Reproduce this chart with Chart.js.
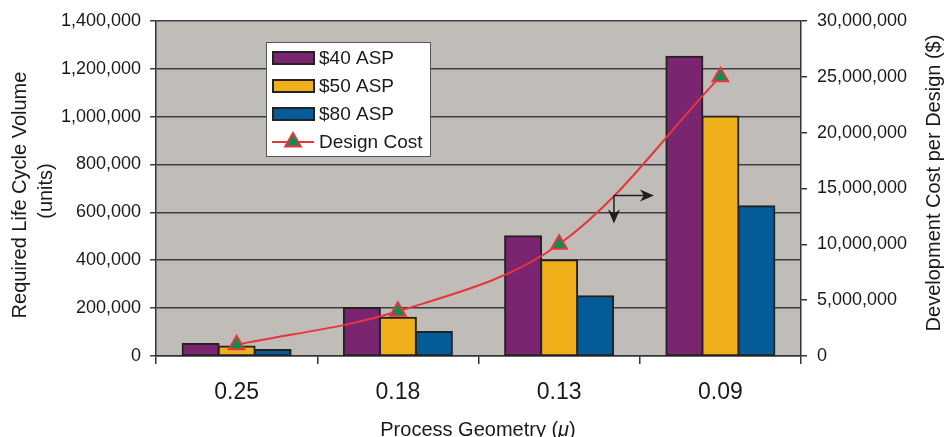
<!DOCTYPE html>
<html>
<head>
<meta charset="utf-8">
<script src="https://cdn.jsdelivr.net/npm/chart.js@4.4.0/dist/chart.umd.min.js"></script>
<style>
html,body{margin:0;padding:0;background:#fff;}
#wrap{width:944px;height:437px;position:relative;}
</style>
</head>
<body>
<div id="wrap"><canvas id="c" width="944" height="437"></canvas></div>
<script>
// ---- data ----
const categories = ['0.25', '0.18', '0.13', '0.09'];
const asp40 = [50000, 200000, 500000, 1250000];
const asp50 = [40000, 160000, 400000, 1000000];
const asp80 = [25000, 100000, 250000, 625000];
const designCost = [1000000, 4000000, 10000000, 25000000];
const seriesLabels = ['$40 ASP', '$50 ASP', '$80 ASP', 'Design Cost'];
const leftTitle = ['Required Life Cycle Volume', '(units)'];
const rightTitle = 'Development Cost per Design ($)';
const bottomTitle = ['Process Geometry (', 'μ', ')'];

// annotation anchor (in scale units: category index, left-axis value)
const arrowAnchor = { x: 2.34, y: 670000 };

const FONT = "'Liberation Sans', Arial, sans-serif";
const fmt = v => Number(v).toLocaleString('en-US');

const plotBg = {
  id: 'plotBg',
  beforeDraw(chart) {
    const {ctx, chartArea: a} = chart;
    ctx.save();
    ctx.fillStyle = '#c0bdb8';
    ctx.fillRect(a.left, a.top, a.right - a.left, a.bottom - a.top);
    ctx.restore();
  }
};

function arrowHead(ctx, x, y, dir) {
  ctx.beginPath();
  if (dir === 'right') {
    ctx.moveTo(x, y); ctx.lineTo(x - 14, y - 6); ctx.lineTo(x - 10, y); ctx.lineTo(x - 14, y + 6);
  } else {
    ctx.moveTo(x, y); ctx.lineTo(x - 6, y - 14); ctx.lineTo(x, y - 10); ctx.lineTo(x + 6, y - 14);
  }
  ctx.closePath(); ctx.fill();
}

const extras = {
  id: 'extras',
  afterDraw(chart) {
    const {ctx} = chart;
    const xs = chart.scales.x, ys = chart.scales.y;
    // arrow annotation
    const ax = xs.getPixelForValue(arrowAnchor.x);
    const ay = ys.getPixelForValue(arrowAnchor.y);
    ctx.save();
    ctx.strokeStyle = '#1e1e1e'; ctx.fillStyle = '#1e1e1e'; ctx.lineWidth = 1.5;
    ctx.beginPath(); ctx.moveTo(ax, ay); ctx.lineTo(ax + 34, ay); ctx.stroke();
    arrowHead(ctx, ax + 40, ay, 'right');
    ctx.beginPath(); ctx.moveTo(ax, ay); ctx.lineTo(ax, ay + 22); ctx.stroke();
    arrowHead(ctx, ax, ay + 28, 'down');
    ctx.restore();

    // legend (bars first, then line, like the reference)
    const lx = 266.5, ly = 42.5, lw = 164, lh = 114;
    ctx.save();
    ctx.fillStyle = '#fff'; ctx.fillRect(lx, ly, lw, lh);
    ctx.strokeStyle = '#555'; ctx.lineWidth = 1; ctx.strokeRect(lx, ly, lw, lh);
    ctx.font = '19px ' + FONT; ctx.textBaseline = 'middle'; ctx.textAlign = 'left';
    const rows = [58, 86, 114, 142];
    seriesLabels.forEach((lab, i) => {
      const ds = chart.data.datasets.find(d => d.label === lab);
      const cy = rows[i];
      if (ds.type === 'line') {
        ctx.strokeStyle = ds.borderColor; ctx.lineWidth = 2;
        ctx.beginPath(); ctx.moveTo(272, cy); ctx.lineTo(314, cy); ctx.stroke();
        const r = 9;
        ctx.beginPath();
        for (let k = 0; k < 3; k++) {
          const ang = k * 2 * Math.PI / 3;
          const px = 293 + Math.sin(ang) * r, py = cy - Math.cos(ang) * r;
          k === 0 ? ctx.moveTo(px, py) : ctx.lineTo(px, py);
        }
        ctx.closePath();
        ctx.fillStyle = ds.pointBackgroundColor; ctx.fill();
        ctx.strokeStyle = ds.pointBorderColor; ctx.lineWidth = 2; ctx.stroke();
      } else {
        ctx.fillStyle = ds.backgroundColor; ctx.fillRect(273, cy - 6, 41, 12);
        ctx.strokeStyle = '#222'; ctx.lineWidth = 2; ctx.strokeRect(273, cy - 6, 41, 12);
      }
      ctx.fillStyle = '#1a1a1a';
      ctx.fillText(lab, 319, cy + 1);
    });
    ctx.restore();

    // axis titles
    ctx.save();
    ctx.fillStyle = '#1a1a1a';
    ctx.font = '20px ' + FONT;
    ctx.textAlign = 'center'; ctx.textBaseline = 'middle';
    // right (reads bottom-to-top)
    ctx.save(); ctx.translate(934, 183); ctx.rotate(-Math.PI / 2);
    ctx.fillText(rightTitle, 0, 0); ctx.restore();
    // left, two lines
    ctx.save(); ctx.translate(20, 195); ctx.rotate(-Math.PI / 2);
    ctx.fillText(leftTitle[0], 0, 0); ctx.restore();
    ctx.save(); ctx.translate(46, 191); ctx.rotate(-Math.PI / 2);
    ctx.fillText(leftTitle[1], 0, 0); ctx.restore();
    // bottom with italic mu
    ctx.textAlign = 'left';
    const regular = '20px ' + FONT, italic = 'italic 20px ' + FONT;
    ctx.font = regular; const w0 = ctx.measureText(bottomTitle[0]).width, w2 = ctx.measureText(bottomTitle[2]).width;
    ctx.font = italic; const w1 = ctx.measureText(bottomTitle[1]).width;
    let bx = 478 - (w0 + w1 + w2) / 2; const by = 430;
    ctx.font = regular; ctx.fillText(bottomTitle[0], bx, by); bx += w0;
    ctx.font = italic; ctx.fillText(bottomTitle[1], bx, by); bx += w1;
    ctx.font = regular; ctx.fillText(bottomTitle[2], bx, by);
    ctx.restore();
  }
};

const barStyle = { borderColor: '#222', borderWidth: 2, borderSkipped: false, inflateAmount: 1 };

new Chart(document.getElementById('c'), {
  data: {
    labels: categories,
    datasets: [
      { type: 'line', label: seriesLabels[3], data: designCost, yAxisID: 'y1', order: 0,
        borderColor: '#e8343e', borderWidth: 2, tension: 0.35,
        pointStyle: 'triangle', pointRadius: 9, pointBorderWidth: 2,
        pointBackgroundColor: '#0c8e4c', pointBorderColor: '#e8343e' },
      Object.assign({ type: 'bar', label: seriesLabels[0], data: asp40, yAxisID: 'y', order: 1, backgroundColor: '#7b2470' }, barStyle),
      Object.assign({ type: 'bar', label: seriesLabels[1], data: asp50, yAxisID: 'y', order: 1, backgroundColor: '#f0b01c' }, barStyle),
      Object.assign({ type: 'bar', label: seriesLabels[2], data: asp80, yAxisID: 'y', order: 1, backgroundColor: '#035c97' }, barStyle)
    ]
  },
  options: {
    responsive: false,
    animation: false,
    layout: { padding: { top: 20, left: 0, right: 0, bottom: 0 } },
    datasets: { bar: { categoryPercentage: 0.67, barPercentage: 1.0 } },
    plugins: { legend: { display: false }, tooltip: { enabled: false } },
    scales: {
      x: {
        type: 'category',
        offset: true,
        grid: { display: true, offset: true, drawOnChartArea: false, drawTicks: true, tickLength: 8, color: '#333', lineWidth: 1.5 },
        border: { display: true, color: '#333', width: 1.5 },
        ticks: { font: { family: FONT, size: 23 }, color: '#1a1a1a', padding: 15 },
        afterFit(s) { s.height = 81; }
      },
      y: {
        position: 'left',
        min: 0, max: 1400000,
        ticks: { stepSize: 200000, callback: fmt, font: { family: FONT, size: 18 }, color: '#1a1a1a', padding: 9 },
        grid: { color: '#3e3e3e', lineWidth: 1.5, drawTicks: true, tickLength: 6 },
        border: { display: true, color: '#333', width: 1.5 },
        afterFit(s) { s.width = 156; }
      },
      y1: {
        position: 'right',
        min: 0, max: 30000000,
        ticks: { stepSize: 5000000, callback: fmt, font: { family: FONT, size: 18 }, color: '#1a1a1a', padding: 10 },
        grid: { drawOnChartArea: false, drawTicks: true, tickLength: 6, color: '#333', lineWidth: 1.5 },
        border: { display: true, color: '#333', width: 1.5 },
        afterFit(s) { s.width = 143; }
      }
    }
  },
  plugins: [plotBg, extras]
});
</script>
</body>
</html>
